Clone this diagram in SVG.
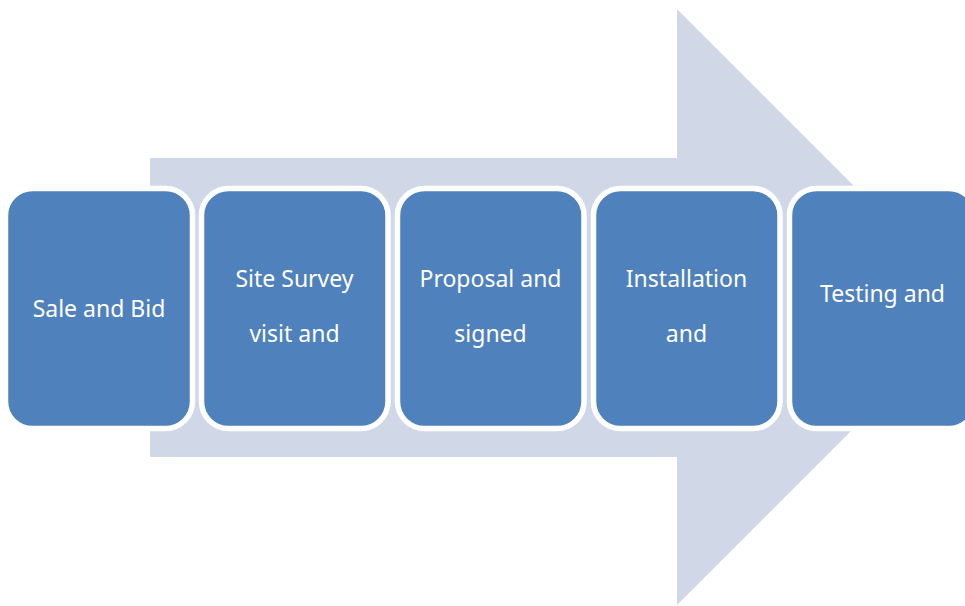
<svg xmlns="http://www.w3.org/2000/svg" width="965" height="606" viewBox="0 0 965 606">
<style>
.box{fill:#4F81BD;stroke:#FFFFFF;stroke-width:5.5}
.lbl{font-family:"Noto Sans","Open Sans",sans-serif;font-size:23px;fill:#FFFFFF;text-anchor:middle}
</style>
<rect width="965" height="606" fill="#FFFFFF"/>
<g id="arrow">
<polygon points="150,158 677,158 677,9 975,307 677,605 677,457 150,457" fill="#D0D8E8"/>
</g>
<g id="connectors"></g>
<g id="node1">
<rect class="box" x="5.5" y="188.5" width="187" height="240" rx="27"/>
<text class="lbl" x="99" y="317">Sale and Bid</text>
</g>
<g id="node2">
<rect class="box" x="201.5" y="188.5" width="186.5" height="240" rx="27"/>
<text class="lbl" x="294.5" y="287">Site Survey</text>
<text class="lbl" x="294.5" y="342">visit and</text>
</g>
<g id="node3">
<rect class="box" x="397.5" y="188.5" width="186.5" height="240" rx="27"/>
<text class="lbl" x="490.5" y="287">Proposal and</text>
<text class="lbl" x="490.5" y="342">signed</text>
</g>
<g id="node4">
<rect class="box" x="593.5" y="188.5" width="186.5" height="240" rx="27"/>
<text class="lbl" x="686.5" y="287">Installation</text>
<text class="lbl" x="686.5" y="342">and</text>
</g>
<g id="node5">
<rect class="box" x="789.5" y="188.5" width="186.5" height="240" rx="27"/>
<text class="lbl" x="882.5" y="302">Testing and</text>
</g>
</svg>
